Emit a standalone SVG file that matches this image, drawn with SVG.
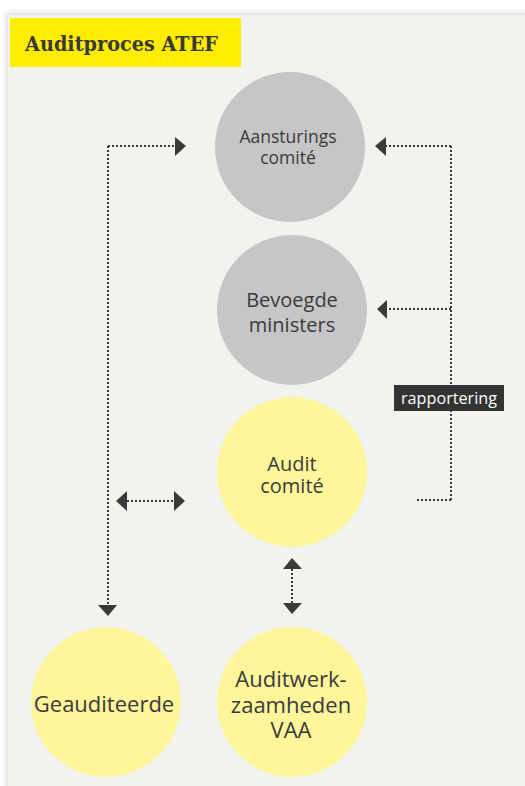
<svg xmlns="http://www.w3.org/2000/svg" width="525" height="786" viewBox="0 0 525 786">
<style>
.t{font-family:"Open Sans","Noto Sans",sans-serif;fill:#3a3a3a;text-anchor:middle}
.c{stroke:#3a3a3a;stroke-width:2;stroke-dasharray:2 2;fill:none}
.ah{fill:#3a3a3a}
.grey{fill:#c6c6c8}
.yel{fill:#fff59a}
</style>
<defs>
<filter id="sh" x="-5%" y="-5%" width="110%" height="110%"><feGaussianBlur stdDeviation="3"/></filter>
</defs>
<rect x="0" y="0" width="525" height="786" fill="#ffffff"/>
<rect x="6" y="13" width="530" height="780" fill="#d8d8d8" filter="url(#sh)"/>
<rect x="8" y="15" width="517" height="771" fill="#f2f2ee"/>
<g id="title">
<rect x="10" y="18" width="231" height="49" fill="#ffed00"/>
<text x="25" y="51" font-family="DejaVu Serif,serif" font-weight="bold" font-size="21" fill="#3a3a3a" textLength="193" lengthAdjust="spacingAndGlyphs">Auditproces ATEF</text>
</g>
<g id="connectors">
<path class="c" d="M108 146H175M108 146V605"/>
<polygon class="ah" points="175,137 186,146 175,156"/>
<polygon class="ah" points="98,605 117,605 108,616"/>
<path class="c" d="M127 501H174"/>
<polygon class="ah" points="127,491 116,501 127,511"/>
<polygon class="ah" points="174,491 185,501 174,511"/>
<path class="c" d="M292 569V604"/>
<polygon class="ah" points="283,569 302,569 292,558"/>
<polygon class="ah" points="283,603 302,603 292,614"/>
<path class="c" d="M451 146H386M451 146V500M451 309H387M451 500H417"/>
<polygon class="ah" points="386,137 375,146 386,156"/>
<polygon class="ah" points="387,300 377,309 387,319"/>
<rect x="394" y="385" width="110" height="26" fill="#333333"/>
<text x="449" y="404" font-family="Open Sans,sans-serif" font-size="16" fill="#ffffff" text-anchor="middle" textLength="96" lengthAdjust="spacingAndGlyphs">rapportering</text>
</g>
<g id="aansturings">
<circle class="grey" cx="290" cy="147" r="75"/>
<text class="t" font-size="17.5"><tspan x="288" y="143">Aansturings</tspan><tspan x="288" y="164">comité</tspan></text>
</g>
<g id="ministers">
<circle class="grey" cx="292" cy="310" r="75"/>
<text class="t" font-size="20"><tspan x="292" y="307">Bevoegde</tspan><tspan x="292" y="332">ministers</tspan></text>
</g>
<g id="auditcomite">
<circle class="yel" cx="292" cy="472" r="75"/>
<text class="t" font-size="20"><tspan x="292" y="471">Audit</tspan><tspan x="292" y="493">comité</tspan></text>
</g>
<g id="geauditeerde">
<circle class="yel" cx="106" cy="702" r="75"/>
<text class="t" font-size="22" x="104" y="712">Geauditeerde</text>
</g>
<g id="vaa">
<circle class="yel" cx="292" cy="702" r="75"/>
<text class="t" font-size="22"><tspan x="291" y="687">Auditwerk-</tspan><tspan x="291" y="713">zaamheden</tspan><tspan x="291" y="738">VAA</tspan></text>
</g>
</svg>
